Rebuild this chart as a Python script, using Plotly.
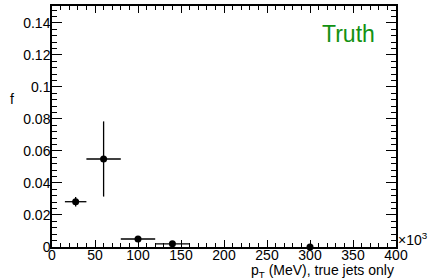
import plotly.graph_objects as go

# Data
pt_center = [27.5, 60, 100, 140, 300]        # x10^3 MeV
pt_err_lo = [12.5, 20, 20, 20, 0]
pt_err_hi = [12.5, 20, 20, 20, 0]
f_val = [0.0283, 0.055, 0.0050, 0.0020, 0.0]
f_err = [0.0030, 0.0235, 0.0010, 0.0010, 0.0]

x_ticks = [0, 50, 100, 150, 200, 250, 300, 350, 400]
y_ticks = [0, 0.02, 0.04, 0.06, 0.08, 0.1, 0.12, 0.14]

W, H = 428, 280
ML, MR, MT, MB = 52, 32, 6, 33

fig = go.Figure()
fig.add_trace(go.Scatter(
    x=pt_center, y=f_val, mode="markers",
    marker=dict(color="black", size=7),
    error_x=dict(type="data", symmetric=False, array=pt_err_hi, arrayminus=pt_err_lo,
                 color="black", thickness=1.3, width=0),
    error_y=dict(type="data", array=f_err, color="black", thickness=1.3, width=0),
    showlegend=False, cliponaxis=False,
))

font_main = "Liberation Sans, Arial, sans-serif"
fig.update_layout(
    width=W, height=H,
    margin=dict(l=ML, r=MR, t=MT, b=MB, autoexpand=False),
    paper_bgcolor="white", plot_bgcolor="white",
    font=dict(family=font_main, size=14, color="black"),
    xaxis=dict(range=[0, 400], tickvals=x_ticks, ticks="inside", ticklen=7, tickwidth=1,
               tickcolor="black", showline=True, linecolor="black", linewidth=1.5,
               mirror="ticks", showgrid=False, zeroline=False, automargin=False,
               ticklabelstandoff=-6,
               minor=dict(ticks="inside", dtick=10, ticklen=4, tickcolor="black", showgrid=False),
               tickfont=dict(size=14)),
    yaxis=dict(range=[0, 0.1506], tickvals=y_ticks, ticks="inside", ticklen=10, tickwidth=1,
               tickcolor="black", showline=True, linecolor="black", linewidth=1.5,
               mirror="ticks", showgrid=False, zeroline=False, automargin=False,
               ticklabelstandoff=-3,
               minor=dict(ticks="inside", dtick=0.004, ticklen=5, tickcolor="black", showgrid=False),
               tickfont=dict(size=14)),
)

fig.add_annotation(text="Truth", xref="paper", yref="paper", x=0.945, y=0.882,
                   xanchor="right", yanchor="middle", showarrow=False,
                   font=dict(size=23, color="#129112", family=font_main))
fig.add_annotation(text="p<sub>T</sub> (MeV), true jets only", xref="paper", yref="paper",
                   x=1.0, y=-0.055, xanchor="right", yanchor="top", showarrow=False,
                   font=dict(size=14))
fig.add_annotation(text="×10<sup>3</sup>", xref="paper", yref="paper",
                   x=1.0, y=0.035, xanchor="left", yanchor="middle", showarrow=False,
                   font=dict(size=14))
fig.add_annotation(text="f", xref="paper", yref="paper",
                   x=-0.116, y=0.614, xanchor="center", yanchor="middle", showarrow=False,
                   font=dict(size=14))

fig.write_html("out.html", config={"displayModeBar": False},
               post_script="document.body.style.margin='0';")
